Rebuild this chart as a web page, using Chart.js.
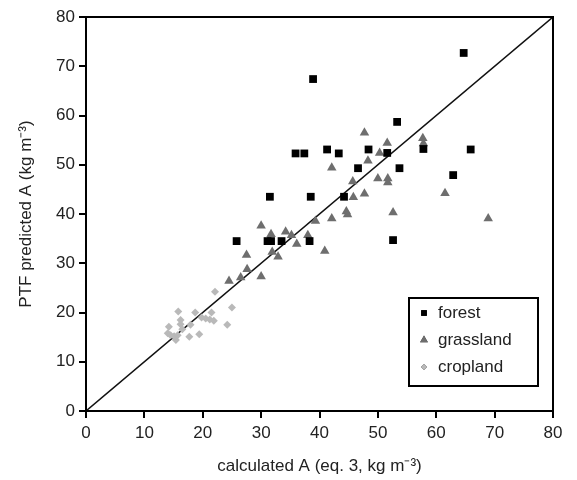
<!DOCTYPE html>
<html>
<head>
<meta charset="utf-8">
<script src="https://cdn.jsdelivr.net/npm/chart.js@4"></script>
<style>
  html, body { margin: 0; padding: 0; background: #fff; }
  #wrap { width: 577px; height: 480px; }
</style>
</head>
<body>
<div id="wrap"><canvas id="ptfChart" width="577" height="480"></canvas></div>
<script>
// data (calculated A, predicted A)
const forestX = [25.8, 31.1, 31.7, 33.5, 38.3, 52.6, 31.5, 38.5, 44.2, 46.6, 53.7, 35.9, 37.4, 41.3, 43.3, 48.4, 51.6, 57.8, 65.9, 62.9, 53.3, 38.9, 64.7];
const forestY = [34.5, 34.5, 34.5, 34.5, 34.5, 34.7, 43.5, 43.5, 43.5, 49.3, 49.3, 52.3, 52.3, 53.1, 52.3, 53.1, 52.4, 53.2, 53.1, 47.9, 58.7, 67.4, 72.7];

const grassX = [24.5, 26.5, 27.6, 30.0, 27.5, 31.9, 32.9, 30.0, 31.7, 34.2, 35.2, 36.1, 38.0, 40.9, 39.3, 42.1, 44.6, 44.8, 52.6, 45.8, 47.7, 45.7, 50.0, 51.7, 51.7, 48.3, 42.1, 50.3, 47.7, 51.6, 57.7, 57.8, 61.5, 68.9];
const grassY = [26.4, 27.1, 28.8, 27.3, 31.7, 32.3, 31.3, 37.6, 35.9, 36.4, 35.7, 33.9, 35.7, 32.5, 38.6, 39.1, 40.5, 39.9, 40.3, 43.4, 44.1, 46.6, 47.2, 47.2, 46.4, 50.8, 49.4, 52.4, 56.5, 54.4, 55.4, 54.3, 44.2, 39.1];

const cropX = [22.1, 15.8, 18.7, 21.5, 25.0, 19.8, 20.5, 21.2, 21.9, 16.2, 16.2, 24.2, 17.9, 14.2, 16.5, 14.0, 14.5, 15.1, 15.7, 19.4, 17.7, 15.4];
const cropY = [24.2, 20.2, 20.0, 20.0, 21.0, 19.0, 18.8, 18.6, 18.3, 18.5, 17.6, 17.5, 17.5, 17.1, 16.6, 15.8, 15.4, 15.2, 15.4, 15.6, 15.1, 14.4];

const lineX = [0, 80];
const lineY = [0, 80];
const axisTicks = [0, 10, 20, 30, 40, 50, 60, 70, 80];

function pts(xs, ys) {
    return xs.map(function(x, i) { return { x: x, y: ys[i] }; });
}

const fontFamily = '"Liberation Sans", Arial, sans-serif';
const textColor = '#222';

// frame round the plot and the boxed legend
const framePlugin = {
    id: 'frame',
    afterDatasetsDraw: function(chart) {
        const ctx = chart.ctx;
        const a = chart.chartArea;
        ctx.save();
        ctx.strokeStyle = '#000';
        ctx.lineWidth = 2;
        ctx.strokeRect(a.left, a.top, a.right - a.left, a.bottom - a.top);

        // legend box
        const bx = 409, by = 298, bw = 129, bh = 88;
        ctx.strokeRect(bx, by, bw, bh);
        const items = chart.data.datasets.filter(function(d) { return d.showInLegend; });
        ctx.font = '17px ' + fontFamily;
        ctx.textBaseline = 'middle';
        items.forEach(function(d, i) {
            const y = by + 15 + i * 27;
            Chart.helpers.drawPoint(ctx, {
                pointStyle: d.pointStyle,
                radius: d.legendRadius,
                borderWidth: 0
            }, 424, y);
            ctx.fillStyle = d.backgroundColor;
            ctx.fill();
            ctx.fillStyle = textColor;
            ctx.fillText(d.label, 438, y);
        });
        ctx.restore();
    }
};

new Chart(document.getElementById('ptfChart').getContext('2d'), {
    type: 'scatter',
    data: {
        datasets: [
            {
                label: 'forest',
                data: pts(forestX, forestY),
                pointStyle: 'rect',
                pointRadius: 5.5,
                backgroundColor: '#000',
                borderWidth: 0,
                showInLegend: true,
                legendRadius: 4
            },
            {
                label: 'grassland',
                data: pts(grassX, grassY),
                pointStyle: 'triangle',
                pointRadius: 5.5,
                backgroundColor: '#6e6e6e',
                borderWidth: 0,
                showInLegend: true,
                legendRadius: 4.5
            },
            {
                label: 'cropland',
                data: pts(cropX, cropY),
                pointStyle: 'rectRot',
                pointRadius: 4,
                backgroundColor: '#b9b9b9',
                borderWidth: 0,
                showInLegend: true,
                legendRadius: 3
            },
            {
                type: 'line',
                label: '1:1',
                data: pts(lineX, lineY),
                borderColor: '#111',
                borderWidth: 1.5,
                pointRadius: 0,
                showInLegend: false
            }
        ]
    },
    options: {
        responsive: false,
        animation: false,
        layout: { padding: { left: 0, top: 17, right: 24, bottom: 0 } },
        scales: {
            x: {
                type: 'linear',
                min: 0,
                max: 80,
                afterBuildTicks: function(scale) {
                    scale.ticks = axisTicks.map(function(v) { return { value: v }; });
                },
                afterFit: function(scale) { scale.height = 69; },
                grid: {
                    drawOnChartArea: false,
                    drawTicks: true,
                    tickLength: 7,
                    color: '#000',
                    lineWidth: 2
                },
                border: { color: '#000', width: 2 },
                ticks: { color: textColor, font: { family: fontFamily, size: 17 }, padding: 5 },
                title: {
                    display: true,
                    text: 'calculated A (eq. 3, kg m⁻³)',
                    color: textColor,
                    font: { family: fontFamily, size: 17 },
                    padding: { top: 0, bottom: 3 }
                }
            },
            y: {
                type: 'linear',
                min: 0,
                max: 80,
                afterBuildTicks: function(scale) {
                    scale.ticks = axisTicks.map(function(v) { return { value: v }; });
                },
                afterFit: function(scale) { scale.width = 86; },
                grid: {
                    drawOnChartArea: false,
                    drawTicks: true,
                    tickLength: 7,
                    color: '#000',
                    lineWidth: 2
                },
                border: { color: '#000', width: 2 },
                ticks: { color: textColor, font: { family: fontFamily, size: 17 }, padding: 4 },
                title: {
                    display: true,
                    text: 'PTF predicted A (kg m⁻³)',
                    color: textColor,
                    font: { family: fontFamily, size: 17 },
                    padding: { top: 16, bottom: 0 }
                }
            }
        },
        plugins: {
            legend: { display: false },
            tooltip: { enabled: false }
        }
    },
    plugins: [framePlugin]
});
</script>
</body>
</html>
